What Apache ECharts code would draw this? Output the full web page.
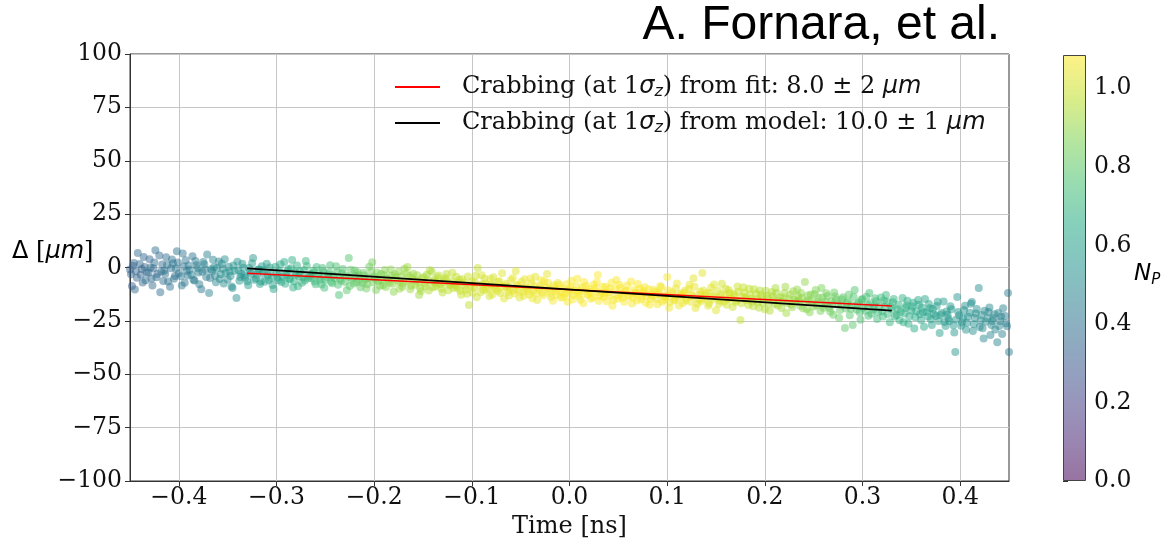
<!DOCTYPE html>
<html><head><meta charset="utf-8">
<script src="https://cdn.jsdelivr.net/npm/echarts@6/dist/echarts.min.js"></script>
<style>html,body{margin:0;padding:0;background:#fff}#c{width:1166px;height:539px}</style>
</head><body><div id="c"></div>
<script>
// samples: [time (ns), Delta (um), N_P]
const samples = [
[-0.464,3.2,0.31],[-0.462,-5.8,0.33],[-0.459,0.7,0.30],[-0.457,-2.6,0.34],[-0.455,5.9,0.32],[-0.453,-4.3,0.35],[-0.450,-0.9,0.33],[-0.448,-8.7,0.31],[-0.446,2.1,0.36],[-0.444,-1.8,0.34],[-0.442,6.8,0.37],[-0.439,-3.4,0.33],[-0.437,-7.0,0.36],[-0.435,0.2,0.35],[-0.433,-2.2,0.38],[-0.430,3.9,0.34],[-0.428,-5.1,0.37],[-0.426,-0.4,0.36],[-0.424,8.1,0.39],[-0.422,-3.0,0.35],[-0.419,-11.6,0.38],[-0.417,1.4,0.37],[-0.415,-1.5,0.40],
[-0.413,4.8,0.38],[-0.411,-6.5,0.40],[-0.408,-0.3,0.39],[-0.406,2.0,0.42],[-0.404,-4.0,0.38],[-0.402,7.6,0.41],[-0.400,-2.7,0.40],[-0.397,-8.4,0.43],[-0.395,0.5,0.39],[-0.393,3.4,0.42],[-0.391,-3.8,0.41],[-0.389,-1.1,0.44],[-0.386,5.3,0.40],[-0.384,-6.1,0.43],[-0.382,1.0,0.42],[-0.380,-2.3,0.45],[-0.377,-10.2,0.41],[-0.375,2.6,0.44],[-0.373,-0.9,0.43],[-0.371,6.1,0.46],[-0.368,-4.9,0.42],[-0.366,-1.7,0.45],
[-0.364,0.1,0.48],[-0.362,-6.9,0.50],[-0.359,2.8,0.47],[-0.357,-3.2,0.51],[-0.355,-0.6,0.49],[-0.353,3.9,0.52],[-0.350,-5.6,0.50],[-0.348,-2.0,0.53],[-0.346,-8.9,0.51],[-0.344,0.9,0.54],[-0.341,-14.3,0.52],[-0.339,-1.3,0.55],[-0.337,-4.4,0.53],[-0.335,1.7,0.56],[-0.333,-3.6,0.54],[-0.330,-6.4,0.57],[-0.328,-0.2,0.55],[-0.326,-2.9,0.58],[-0.324,4.5,0.56],[-0.321,-5.2,0.59],[-0.319,-1.0,0.57],[-0.317,-7.7,0.60],[-0.315,0.6,0.58],
[-0.313,-3.1,0.59],[-0.310,1.8,0.61],[-0.308,-5.9,0.60],[-0.306,-2.4,0.62],[-0.304,-8.2,0.61],[-0.301,0.4,0.63],[-0.299,-4.7,0.62],[-0.297,-1.6,0.64],[-0.295,-6.8,0.63],[-0.292,2.6,0.65],[-0.290,-3.7,0.64],[-0.288,-0.8,0.66],[-0.286,-5.5,0.65],[-0.284,3.5,0.67],[-0.283,-9.4,0.67],[-0.281,-2.2,0.66],[-0.279,0.9,0.68],[-0.277,-4.1,0.67],[-0.274,-7.1,0.69],[-0.272,-1.3,0.68],[-0.270,3.1,0.70],[-0.268,-5.0,0.69],[-0.265,-3.0,0.71],
[-0.263,-2.7,0.71],[-0.261,-6.6,0.72],[-0.259,0.2,0.71],[-0.256,-4.4,0.73],[-0.254,-8.0,0.72],[-0.252,-1.9,0.74],[-0.250,-5.8,0.73],[-0.247,-3.3,0.75],[-0.245,1.1,0.74],[-0.243,-7.4,0.76],[-0.241,-4.9,0.75],[-0.238,-2.1,0.77],[-0.236,-12.9,0.76],[-0.234,-6.2,0.78],[-0.232,-0.7,0.77],[-0.229,-3.9,0.79],[-0.226,4.4,0.78],[-0.225,-8.7,0.80],[-0.223,-5.3,0.79],[-0.220,-1.4,0.81],[-0.218,-6.9,0.80],[-0.216,-3.6,0.82],
[-0.214,-9.3,0.81],[-0.211,-2.6,0.83],[-0.209,-5.7,0.82],[-0.207,-7.8,0.84],[-0.205,0.3,0.83],[-0.202,2.5,0.85],[-0.200,-4.2,0.84],[-0.198,-10.5,0.86],[-0.196,-6.4,0.85],[-0.193,-3.1,0.87],[-0.191,-8.3,0.86],[-0.189,-1.2,0.88],[-0.187,-5.0,0.87],[-0.184,-7.2,0.89],[-0.182,-3.8,0.88],[-0.180,-11.4,0.89],[-0.178,-4.6,0.90],[-0.175,-2.0,0.89],[-0.173,-6.9,0.91],[-0.171,-9.0,0.90],[-0.169,-0.6,0.91],[-0.166,0.2,0.92],
[-0.164,-4.0,0.91],[-0.162,-8.6,0.92],[-0.160,-2.9,0.91],[-0.157,-6.1,0.93],[-0.154,-12.9,0.92],[-0.153,-9.7,0.93],[-0.151,-5.2,0.94],[-0.148,-7.5,0.93],[-0.146,-3.4,0.94],[-0.144,-10.8,0.95],[-0.141,-2.0,0.94],[-0.139,-6.7,0.95],[-0.137,-8.9,0.96],[-0.135,-4.7,0.95],[-0.132,-7.9,0.96],[-0.130,-11.7,0.97],[-0.128,-5.9,0.96],[-0.126,-3.0,0.97],[-0.123,-8.2,0.96],[-0.121,-6.3,0.98],[-0.119,-9.6,0.97],[-0.116,-4.3,0.98],
[-0.114,-7.2,0.97],[-0.112,-10.9,0.98],[-0.110,-5.4,0.99],[-0.107,-8.5,0.98],[-0.105,-12.3,0.99],[-0.103,-17.6,0.98],[-0.100,-6.6,1.00],[-0.098,-9.4,0.99],[-0.096,-3.9,1.00],[-0.094,-0.2,0.99],[-0.091,-11.6,1.01],[-0.089,-7.8,1.00],[-0.087,-5.1,1.01],[-0.085,-10.1,1.00],[-0.082,-13.4,1.01],[-0.080,-8.0,1.02],[-0.078,-4.6,1.01],[-0.076,-9.9,1.02],[-0.073,-6.8,1.01],[-0.071,-12.0,1.02],[-0.069,-2.7,1.03],[-0.066,-8.7,1.02],
[-0.064,-9.2,1.03],[-0.062,-13.1,1.02],[-0.060,-6.0,1.03],[-0.057,-10.6,1.04],[-0.055,-1.6,1.03],[-0.053,-8.1,1.04],[-0.051,-14.0,1.03],[-0.048,-11.3,1.04],[-0.046,-5.5,1.05],[-0.044,-9.7,1.04],[-0.041,-12.6,1.05],[-0.039,-7.4,1.04],[-0.037,-10.9,1.05],[-0.035,-4.3,1.04],[-0.033,-15.2,1.05],[-0.030,-8.8,1.06],[-0.028,-11.8,1.05],[-0.026,-6.5,1.06],[-0.023,-3.0,1.05],[-0.021,-10.2,1.06],[-0.019,-13.7,1.05],[-0.016,-8.3,1.06],
[-0.014,-11.0,1.06],[-0.012,-7.3,1.05],[-0.009,-14.1,1.06],[-0.007,-9.8,1.07],[-0.005,-12.4,1.06],[-0.002,-16.0,1.07],[0.000,-10.4,1.06],[0.002,-6.2,1.07],[0.004,-13.0,1.06],[0.007,-8.9,1.07],[0.009,-11.7,1.07],[0.011,-15.1,1.06],[0.013,-9.5,1.07],[0.015,-6.8,1.08],[0.018,-12.8,1.07],[0.020,-10.1,1.08],[0.022,-14.6,1.07],[0.025,-8.0,1.08],[0.027,-11.2,1.07],[0.029,-3.5,1.08],[0.031,-13.3,1.07],[0.034,-9.1,1.08],
[0.036,-12.1,1.07],[0.038,-15.8,1.08],[0.041,-10.0,1.07],[0.043,-7.2,1.08],[0.045,-15.2,1.07],[0.048,-5.9,1.08],[0.050,-12.9,1.07],[0.052,-9.6,1.08],[0.054,-14.3,1.07],[0.057,-11.4,1.08],[0.059,-8.4,1.07],[0.061,-13.6,1.08],[0.064,-16.9,1.07],[0.066,-10.7,1.08],[0.068,-12.2,1.07],[0.070,-7.7,1.08],[0.073,-14.9,1.07],[0.075,-11.0,1.08],[0.077,-9.2,1.07],[0.079,-13.1,1.08],[0.082,-17.4,1.07],[0.084,-12.6,1.07],
[0.086,-10.4,1.07],[0.089,-14.7,1.06],[0.091,-12.0,1.07],[0.093,-8.7,1.06],[0.095,-16.1,1.07],[0.098,-13.3,1.06],[0.100,-4.4,1.07],[0.102,-18.9,1.06],[0.105,-11.6,1.07],[0.107,-15.4,1.06],[0.109,-9.8,1.05],[0.111,-13.9,1.06],[0.114,-12.3,1.05],[0.116,-16.6,1.06],[0.118,-10.9,1.05],[0.120,-14.2,1.06],[0.123,-8.1,1.05],[0.125,-12.7,1.05],[0.127,-5.0,1.04],[0.129,-19.0,1.05],[0.132,-15.0,1.04],[0.134,-11.3,1.05],
[0.136,-2.6,1.04],[0.138,-14.8,1.03],[0.140,-12.1,1.04],[0.143,-16.9,1.03],[0.145,-9.4,1.03],[0.147,-13.5,1.02],[0.150,-20.0,1.03],[0.152,-11.0,1.02],[0.154,-15.6,1.02],[0.156,-7.6,1.01],[0.159,-13.0,1.02],[0.161,-17.5,1.01],[0.163,-10.5,1.01],[0.165,-14.4,1.00],[0.168,-12.4,1.01],[0.170,-16.2,1.00],[0.172,-8.9,1.00],[0.175,-24.6,0.99],[0.177,-13.8,1.00],[0.179,-11.7,0.99],[0.181,-15.3,0.99],[0.184,-9.9,0.98],
[0.186,-14.6,0.98],[0.188,-18.1,0.97],[0.191,-12.3,0.98],[0.193,-16.4,0.97],[0.195,-10.8,0.96],[0.197,-14.0,0.97],[0.200,-19.5,0.96],[0.202,-13.2,0.96],[0.204,-16.9,0.95],[0.207,-11.5,0.96],[0.209,-15.2,0.95],[0.211,-9.6,0.94],[0.213,-17.8,0.95],[0.216,-13.9,0.94],[0.218,-16.0,0.94],[0.220,-12.0,0.93],[0.222,-21.3,0.93],[0.225,-14.7,0.92],[0.227,-17.3,0.93],[0.229,-11.1,0.92],[0.232,-15.9,0.91],[0.234,-13.5,0.91],
[0.236,-17.9,0.90],[0.238,-14.3,0.91],[0.241,-6.8,0.90],[0.243,-19.6,0.89],[0.245,-15.4,0.89],[0.247,-12.7,0.88],[0.250,-18.3,0.88],[0.252,-10.5,0.87],[0.254,-16.2,0.87],[0.257,-20.4,0.86],[0.259,-14.0,0.86],[0.261,-17.5,0.85],[0.263,-12.1,0.85],[0.266,-19.0,0.84],[0.268,-15.8,0.84],[0.270,-22.1,0.83],[0.272,-13.6,0.83],[0.275,-17.0,0.82],[0.277,-19.9,0.82],[0.279,-14.9,0.81],[0.282,-28.3,0.81],[0.284,-16.6,0.80],
[0.286,-12.6,0.80],[0.288,-19.3,0.79],[0.290,-26.9,0.79],[0.292,-10.5,0.78],[0.295,-17.2,0.78],[0.297,-21.0,0.77],[0.299,-15.1,0.77],[0.301,-18.8,0.76],[0.304,-13.7,0.76],[0.306,-22.6,0.75],[0.308,-16.8,0.75],[0.311,-19.7,0.74],[0.313,-14.4,0.74],[0.315,-24.1,0.73],[0.317,-17.9,0.73],[0.320,-20.6,0.72],[0.322,-15.5,0.72],[0.324,-12.9,0.71],[0.326,-21.8,0.71],[0.329,-18.4,0.70],[0.331,-16.3,0.70],[0.333,-23.0,0.69],
[0.336,-19.5,0.69],[0.338,-24.7,0.68],[0.341,-14.3,0.68],[0.343,-21.6,0.67],[0.345,-17.8,0.67],[0.347,-26.4,0.66],[0.350,-20.1,0.66],[0.352,-16.5,0.65],[0.354,-23.3,0.65],[0.357,-15.2,0.64],[0.359,-21.9,0.64],[0.361,-18.7,0.63],[0.363,-27.8,0.63],[0.366,-20.8,0.62],[0.368,-17.1,0.62],[0.370,-24.2,0.61],[0.372,-19.4,0.61],[0.375,-22.7,0.60],[0.377,-16.0,0.60],[0.379,-30.7,0.59],[0.381,-21.3,0.59],[0.384,-25.5,0.58],
[0.386,-20.6,0.58],[0.388,-23.9,0.57],[0.390,-18.2,0.57],[0.393,-27.0,0.56],[0.395,-39.6,0.56],[0.397,-13.8,0.56],[0.399,-22.4,0.55],[0.402,-25.8,0.55],[0.404,-19.9,0.54],[0.406,-29.2,0.54],[0.408,-23.1,0.53],[0.411,-17.0,0.53],[0.412,-16.2,0.53],[0.414,-26.6,0.52],[0.416,-21.5,0.52],[0.419,-9.6,0.51],[0.421,-24.8,0.51],[0.423,-28.5,0.50],[0.425,-20.3,0.50],[0.428,-23.6,0.50],[0.430,-18.7,0.49],[0.431,-31.6,0.49],[0.433,-25.2,0.48],[0.435,-21.9,0.48],[0.438,-35.0,0.48],[0.440,-27.4,0.47],[0.442,-23.0,0.47],[0.444,-19.1,0.47],[0.447,-26.1,0.46],[0.449,-12.0,0.46],[0.450,-39.6,0.46],[0.452,-24.5,0.45],[0.455,-29.9,0.45],[0.458,-21.4,0.45],[0.461,-26.8,0.44],
[-0.465,-3.8,0.30],[-0.463,1.9,0.32],[-0.460,-7.9,0.31],[-0.458,4.6,0.33],[-0.456,-1.1,0.32],[-0.454,-5.0,0.34],[-0.451,2.9,0.33],[-0.449,-3.2,0.35],[-0.447,0.8,0.34],[-0.445,-10.3,0.36],[-0.443,-4.8,0.35],[-0.440,1.6,0.37],[-0.438,-0.7,0.36],[-0.436,4.9,0.35],[-0.434,-6.0,0.38],[-0.431,-2.5,0.37],[-0.429,0.0,0.39],[-0.427,-8.4,0.36],[-0.425,2.4,0.38],[-0.423,-4.6,0.39],[-0.420,5.6,0.37],[-0.418,-1.9,0.40],[-0.416,-6.3,0.39],
[-0.414,-2.9,0.40],[-0.412,1.2,0.41],[-0.409,-9.0,0.39],[-0.407,3.8,0.42],[-0.405,-5.3,0.41],[-0.403,-0.5,0.43],[-0.401,2.3,0.41],[-0.398,-4.1,0.44],[-0.396,6.6,0.42],[-0.394,-7.2,0.43],[-0.392,-1.6,0.45],[-0.390,0.9,0.43],[-0.387,-3.4,0.46],[-0.385,-5.7,0.44],[-0.383,3.0,0.45],[-0.381,-0.3,0.47],[-0.379,-7.9,0.45],[-0.376,-2.0,0.46],[-0.374,1.5,0.48],[-0.372,-4.5,0.46],[-0.369,-12.0,0.47],[-0.367,-0.8,0.49],[-0.365,3.6,0.48],
[-0.363,-3.9,0.49],[-0.361,-0.4,0.51],[-0.358,-5.4,0.50],[-0.356,1.8,0.52],[-0.354,-7.5,0.51],[-0.352,-2.6,0.53],[-0.349,0.3,0.52],[-0.347,-4.0,0.54],[-0.345,-9.6,0.53],[-0.343,-1.5,0.55],[-0.340,2.7,0.54],[-0.338,-6.2,0.56],[-0.336,-3.0,0.55],[-0.334,-0.1,0.57],[-0.332,-4.8,0.56],[-0.329,-8.3,0.58],[-0.327,-1.9,0.57],[-0.325,2.0,0.59],[-0.323,-5.7,0.58],[-0.320,-3.3,0.60],[-0.318,-0.9,0.59],[-0.316,-6.6,0.61],
[-0.314,-1.2,0.60],[-0.312,-6.7,0.61],[-0.309,-3.6,0.62],[-0.307,0.0,0.61],[-0.305,-4.9,0.63],[-0.303,-10.1,0.62],[-0.300,-2.8,0.64],[-0.298,-6.0,0.63],[-0.296,1.5,0.65],[-0.294,-4.3,0.64],[-0.291,-7.6,0.66],[-0.289,-2.0,0.65],[-0.287,-5.2,0.67],[-0.285,-0.4,0.66],[-0.282,-6.4,0.68],[-0.280,-3.4,0.67],[-0.278,-8.8,0.69],[-0.276,-1.8,0.68],[-0.273,-4.6,0.70],[-0.271,-6.1,0.69],[-0.269,0.7,0.71],[-0.266,-3.9,0.70],
[-0.264,-5.0,0.71],[-0.262,-1.5,0.72],[-0.260,-7.9,0.72],[-0.257,-3.1,0.73],[-0.255,-5.6,0.73],[-0.253,-0.2,0.74],[-0.251,-9.5,0.74],[-0.248,-4.6,0.75],[-0.246,-2.4,0.75],[-0.244,-6.7,0.76],[-0.242,-3.7,0.76],[-0.239,0.6,0.77],[-0.237,-8.1,0.77],[-0.235,-5.1,0.78],[-0.233,-2.7,0.78],[-0.230,-6.8,0.79],[-0.228,-10.6,0.79],[-0.226,-4.3,0.80],[-0.224,-1.0,0.80],[-0.221,-7.5,0.81],[-0.219,-4.0,0.81],[-0.217,-2.2,0.82],
[-0.215,-5.9,0.82],[-0.212,-7.1,0.83],[-0.210,-3.8,0.83],[-0.208,-9.8,0.84],[-0.206,-4.9,0.84],[-0.203,-1.9,0.85],[-0.201,-7.0,0.85],[-0.199,-5.3,0.86],[-0.197,-2.4,0.86],[-0.194,-8.6,0.87],[-0.192,-6.0,0.87],[-0.190,-3.5,0.88],[-0.188,-9.1,0.88],[-0.185,-5.8,0.89],[-0.183,-0.9,0.89],[-0.181,-7.6,0.90],[-0.179,-3.2,0.90],[-0.176,-6.2,0.90],[-0.174,-10.0,0.91],[-0.172,-4.1,0.91],[-0.170,-7.4,0.92],[-0.167,-2.8,0.92],
[-0.165,-6.6,0.92],[-0.163,-10.2,0.92],[-0.161,-5.0,0.93],[-0.158,-8.1,0.93],[-0.156,-3.6,0.93],[-0.154,-7.0,0.94],[-0.152,-11.0,0.94],[-0.149,-4.4,0.94],[-0.147,-8.8,0.95],[-0.145,-6.0,0.95],[-0.143,-1.3,0.95],[-0.140,-9.3,0.96],[-0.138,-5.6,0.96],[-0.136,-7.4,0.96],[-0.134,-3.8,0.97],[-0.131,-9.9,0.97],[-0.129,-6.9,0.97],[-0.127,-4.9,0.98],[-0.124,-10.6,0.98],[-0.122,-7.7,0.98],[-0.120,-2.5,0.99],[-0.117,-8.4,0.99],
[-0.115,-9.5,0.99],[-0.113,-5.8,0.99],[-0.111,-12.8,1.00],[-0.108,-7.0,1.00],[-0.106,-10.4,1.00],[-0.104,-4.2,1.00],[-0.101,-8.9,1.01],[-0.099,-11.8,1.01],[-0.097,-6.9,1.01],[-0.095,-13.9,1.01],[-0.092,-8.4,1.02],[-0.090,-3.6,1.02],[-0.088,-10.6,1.02],[-0.086,-7.5,1.02],[-0.083,-9.7,1.03],[-0.081,-5.4,1.03],[-0.079,-12.6,1.03],[-0.077,-8.8,1.03],[-0.074,-10.9,1.03],[-0.072,-6.4,1.04],[-0.070,-9.0,1.04],[-0.067,-14.5,1.04],
[-0.065,-7.6,1.04],[-0.063,-11.5,1.04],[-0.061,-9.8,1.04],[-0.058,-4.9,1.05],[-0.056,-12.2,1.05],[-0.054,-8.6,1.05],[-0.052,-10.5,1.05],[-0.049,-6.7,1.05],[-0.047,-13.2,1.05],[-0.045,-9.0,1.06],[-0.042,-11.0,1.06],[-0.040,-5.2,1.06],[-0.038,-14.4,1.06],[-0.036,-8.5,1.06],[-0.034,-12.0,1.06],[-0.031,-10.0,1.06],[-0.029,-6.0,1.07],[-0.027,-13.0,1.07],[-0.024,-9.4,1.07],[-0.022,-7.2,1.07],[-0.020,-11.9,1.07],[-0.017,-15.6,1.07],
[-0.015,-9.6,1.07],[-0.013,-12.9,1.07],[-0.010,-8.2,1.07],[-0.008,-11.4,1.08],[-0.006,-13.9,1.08],[-0.003,-7.9,1.08],[-0.001,-12.0,1.08],[0.001,-9.1,1.08],[0.003,-15.0,1.08],[0.006,-11.0,1.08],[0.008,-5.3,1.08],[0.010,-13.2,1.08],[0.012,-10.9,1.08],[0.014,-16.7,1.08],[0.017,-8.6,1.08],[0.019,-12.5,1.08],[0.021,-11.5,1.08],[0.024,-14.1,1.08],[0.026,-9.7,1.08],[0.028,-6.9,1.08],[0.030,-15.7,1.08],[0.033,-11.9,1.08],
[0.035,-13.8,1.08],[0.037,-9.0,1.08],[0.040,-11.7,1.08],[0.042,-13.0,1.08],[0.044,-17.9,1.08],[0.047,-10.3,1.08],[0.049,-14.6,1.08],[0.051,-8.1,1.08],[0.053,-12.4,1.08],[0.056,-16.0,1.08],[0.058,-10.9,1.08],[0.060,-12.9,1.08],[0.063,-6.6,1.08],[0.065,-14.0,1.08],[0.067,-11.8,1.08],[0.069,-15.4,1.08],[0.072,-9.9,1.08],[0.074,-13.3,1.08],[0.076,-12.0,1.08],[0.078,-16.4,1.08],[0.081,-10.2,1.08],[0.083,-14.5,1.07],
[0.085,-13.6,1.07],[0.088,-11.3,1.07],[0.090,-17.2,1.07],[0.092,-12.6,1.07],[0.094,-9.4,1.07],[0.097,-15.1,1.07],[0.099,-13.9,1.07],[0.101,-10.7,1.07],[0.103,-16.3,1.06],[0.106,-12.9,1.06],[0.108,-14.9,1.06],[0.110,-7.5,1.06],[0.112,-17.8,1.06],[0.115,-13.0,1.06],[0.117,-11.8,1.06],[0.119,-15.5,1.05],[0.122,-10.1,1.05],[0.124,-16.0,1.05],[0.126,-13.5,1.05],[0.128,-9.0,1.05],[0.131,-17.0,1.04],[0.133,-12.8,1.04],
[0.135,-15.7,1.04],[0.137,-10.8,1.04],[0.139,-13.4,1.04],[0.142,-17.9,1.03],[0.144,-11.9,1.03],[0.146,-15.0,1.03],[0.148,-8.0,1.03],[0.151,-14.1,1.02],[0.153,-17.0,1.02],[0.155,-12.6,1.02],[0.158,-16.1,1.02],[0.160,-10.0,1.01],[0.162,-14.9,1.01],[0.164,-12.0,1.01],[0.167,-18.5,1.00],[0.169,-13.2,1.00],[0.171,-15.6,1.00],[0.173,-11.3,0.99],[0.176,-16.8,0.99],[0.178,-9.3,0.99],[0.180,-14.1,0.98],[0.183,-17.6,0.98],
[0.185,-12.9,0.98],[0.187,-16.0,0.97],[0.189,-10.2,0.97],[0.192,-14.8,0.97],[0.194,-18.9,0.96],[0.196,-12.8,0.96],[0.198,-16.5,0.96],[0.201,-10.9,0.95],[0.203,-14.6,0.95],[0.205,-20.3,0.95],[0.208,-13.3,0.94],[0.210,-17.1,0.94],[0.212,-11.9,0.94],[0.214,-15.6,0.93],[0.217,-19.0,0.93],[0.219,-14.2,0.93],[0.221,-9.0,0.92],[0.223,-16.6,0.92],[0.226,-12.6,0.92],[0.228,-18.6,0.91],[0.230,-15.0,0.91],[0.233,-10.3,0.90],
[0.235,-15.5,0.90],[0.237,-12.0,0.90],[0.239,-19.1,0.89],[0.242,-16.2,0.89],[0.244,-13.1,0.88],[0.246,-21.0,0.88],[0.248,-15.9,0.88],[0.251,-12.5,0.87],[0.253,-17.8,0.87],[0.255,-14.2,0.86],[0.258,-9.6,0.86],[0.260,-18.9,0.85],[0.262,-16.0,0.85],[0.264,-13.4,0.84],[0.267,-20.7,0.84],[0.269,-17.3,0.83],[0.271,-11.7,0.83],[0.273,-15.1,0.82],[0.276,-23.6,0.82],[0.278,-17.7,0.81],[0.280,-13.9,0.81],[0.283,-19.2,0.80],
[0.285,-15.9,0.80],[0.287,-22.4,0.79],[0.289,-17.6,0.79],[0.291,-13.8,0.78],[0.294,-19.8,0.78],[0.296,-16.4,0.77],[0.298,-24.5,0.77],[0.300,-14.8,0.76],[0.303,-20.2,0.76],[0.305,-17.4,0.75],[0.307,-11.9,0.75],[0.309,-21.7,0.74],[0.312,-18.0,0.74],[0.314,-15.8,0.73],[0.316,-20.9,0.73],[0.319,-14.1,0.72],[0.321,-22.9,0.72],[0.323,-18.5,0.71],[0.325,-16.0,0.71],[0.328,-25.6,0.70],[0.330,-19.6,0.70],[0.332,-14.7,0.69],
[0.335,-22.2,0.69],[0.337,-17.5,0.68],[0.339,-20.9,0.68],[0.342,-25.7,0.67],[0.344,-19.0,0.67],[0.346,-15.6,0.66],[0.348,-22.8,0.66],[0.351,-18.3,0.65],[0.353,-28.6,0.65],[0.355,-20.5,0.64],[0.358,-17.4,0.64],[0.360,-24.6,0.63],[0.362,-21.0,0.63],[0.364,-14.8,0.62],[0.367,-23.0,0.62],[0.369,-19.1,0.61],[0.371,-26.9,0.61],[0.373,-21.8,0.60],[0.376,-18.0,0.60],[0.378,-25.1,0.59],[0.380,-22.3,0.59],[0.383,-15.9,0.58],
[0.385,-27.4,0.58],[0.387,-22.0,0.57],[0.389,-25.1,0.57],[0.391,-19.6,0.57],[0.394,-30.4,0.56],[0.396,-24.4,0.56],[0.398,-20.8,0.55],[0.401,-27.3,0.55],[0.403,-23.5,0.54],[0.405,-17.9,0.54],[0.407,-25.9,0.54],[0.410,-21.2,0.53],[0.413,-29.7,0.53],[0.415,-23.7,0.52],[0.417,-19.4,0.52],[0.420,-27.9,0.51],[0.422,-22.2,0.51],[0.424,-33.3,0.50],[0.426,-25.4,0.50],[0.429,-20.9,0.49],[0.432,-26.9,0.49],[0.434,-23.8,0.48],[0.436,-29.0,0.48],[0.439,-21.3,0.48],[0.441,-25.0,0.47],[0.443,-31.2,0.47],[0.446,-22.7,0.46],[0.448,-27.5,0.46],[0.451,-19.7,0.46],[0.453,-28.3,0.45],[0.456,-23.2,0.45],[0.459,-33.8,0.45],[0.462,-24.9,0.44]
];
const fitLine = [[-0.33, -2.7], [0.33, -18.0]];
const modelLine = [[-0.33, -0.4], [0.33, -20.2]];
const xTicks = [-0.4, -0.3, -0.2, -0.1, 0.0, 0.1, 0.2, 0.3, 0.4];
const cbarTicks = [0.0, 0.2, 0.4, 0.6, 0.8, 1.0];
const legendNames = {
  fit: '{t|Crabbing (at 1}{i|σ}{s|z}{t|) from fit: 8.0 ± 2 }{i|μm}',
  model: '{t|Crabbing (at 1}{i|σ}{s|z}{t|) from model: 10.0 ± 1 }{i|μm}'
};
const viridis = ['#440154','#482475','#414487','#355f8d','#2a788e','#21918c','#22a884','#44bf70','#7ad151','#bddf26','#fde725'];

// pale (alpha-blended on white) version for the colour bar
const blend = (hex, a) => {
  const n = parseInt(hex.slice(1), 16);
  const c = [(n >> 16) & 255, (n >> 8) & 255, n & 255].map(v => Math.round(v * a + 255 * (1 - a)));
  return 'rgb(' + c.join(',') + ')';
};
const viridisPale = viridis.map(c => blend(c, 0.55));

const SERIF = 'DejaVu Serif';
const SANS = 'DejaVu Sans';
const TICK_FS = 23.5;
const fmtX = v => (v < -1e-9 ? '\u2212' : '') + Math.abs(v).toFixed(1);
const fmtY = v => (v < 0 ? '\u2212' + Math.abs(v) : String(v));
const richText = {
  t: { fontFamily: SERIF, fontSize: 24, color: '#111', lineHeight: 26 },
  i: { fontFamily: SANS, fontStyle: 'italic', fontSize: 24, color: '#111', lineHeight: 26 },
  s: { fontFamily: SANS, fontStyle: 'italic', fontSize: 16, color: '#111', lineHeight: 16, verticalAlign: 'bottom' }
};

const chart = echarts.init(document.getElementById('c'), null, { renderer: 'canvas' });
chart.setOption({
  animation: false,
  backgroundColor: '#ffffff',
  grid: [
    { left: 130, top: 54, width: 879, height: 427, outerBoundsMode: 'none', containLabel: false,
      show: true, borderColor: '#333', borderWidth: 1, backgroundColor: 'transparent' },
    { left: 1063, top: 55, width: 23, height: 426, outerBoundsMode: 'none', containLabel: false, show: false }
  ],
  xAxis: [
    { type: 'value', gridIndex: 0, min: -0.45, max: 0.45, splitNumber: 9,
      axisLine: { show: true, onZero: false, lineStyle: { color: '#333', width: 1 } },
      axisTick: { show: true, customValues: xTicks, length: 5, lineStyle: { color: '#333' } },
      axisLabel: { customValues: xTicks, formatter: fmtX, fontFamily: SERIF, fontSize: TICK_FS, color: '#111', margin: 5 },
      splitLine: { show: true, lineStyle: { color: '#c6c6c6', width: 1 } },
      name: 'Time [ns]', nameLocation: 'middle', nameGap: 32,
      nameTextStyle: { fontFamily: SERIF, fontSize: 24, color: '#111' } },
    { type: 'value', gridIndex: 1, show: false, min: 0, max: 1 }
  ],
  yAxis: [
    { type: 'value', gridIndex: 0, min: -100, max: 100, interval: 25,
      axisLine: { show: true, onZero: false, lineStyle: { color: '#333', width: 1 } },
      axisTick: { show: true, length: 5, lineStyle: { color: '#333' } },
      axisLabel: { formatter: fmtY, fontFamily: SERIF, fontSize: TICK_FS, color: '#111', margin: 8 },
      splitLine: { show: true, lineStyle: { color: '#c6c6c6', width: 1 } } },
    { type: 'value', gridIndex: 1, position: 'right', min: 0, max: 1.085,
      axisLine: { show: false },
      axisTick: { show: true, customValues: cbarTicks, length: 5, lineStyle: { color: '#333' } },
      axisLabel: { customValues: cbarTicks, formatter: v => v.toFixed(1), fontFamily: SERIF, fontSize: TICK_FS, color: '#111', margin: 8 },
      splitLine: { show: false } }
  ],
  visualMap: {
    type: 'continuous', seriesIndex: 0, dimension: 2, min: 0, max: 1.085,
    left: 1063, top: 55, itemWidth: 23, itemHeight: 426, padding: 0,
    calculable: false, hoverLink: false, realtime: false, text: null, showLabel: false,
    inRange: { color: viridis, colorAlpha: 0.6 },
    controller: { inRange: { color: viridisPale, colorAlpha: 1 } }
  },
  legend: {
    orient: 'vertical', left: 390, top: 70, itemWidth: 45, itemHeight: 2, itemGap: 11,
    icon: 'rect',
    data: ['fit', 'model'],
    formatter: name => legendNames[name],
    textStyle: { rich: richText, padding: [0, 0, 0, 17] },
    selectedMode: false
  },
  series: [
    { name: 'points', type: 'scatter', xAxisIndex: 0, yAxisIndex: 0, data: samples,
      symbolSize: 8, itemStyle: { borderWidth: 0 }, z: 2 },
    { name: 'fit', type: 'line', xAxisIndex: 0, yAxisIndex: 0, data: fitLine,
      symbol: 'none', lineStyle: { color: '#ff0000', width: 1.6 }, itemStyle: { color: '#ff0000' }, z: 3 },
    { name: 'model', type: 'line', xAxisIndex: 0, yAxisIndex: 0, data: modelLine,
      symbol: 'none', lineStyle: { color: '#000', width: 1.8 }, itemStyle: { color: '#000' }, z: 4 }
  ],
  graphic: [
    { type: 'text', right: 166, top: 2, z: 10,
      style: { text: 'A. Fornara, et al.', font: '48px "Liberation Sans", Arial, sans-serif', fill: '#000' } },
    { type: 'text', left: 12, top: 240, z: 10,
      style: { text: '{a|Δ }{b|[}{i|μm}{b|]}', rich: {
        a: { fontFamily: SANS, fontSize: 24, color: '#111' },
        b: { fontFamily: SERIF, fontSize: 24, color: '#111' },
        i: { fontFamily: SANS, fontStyle: 'italic', fontSize: 24, color: '#111' } } } },
    { type: 'text', left: 1134, top: 263, z: 10,
      style: { text: '{n|N}{p|P}', rich: {
        n: { fontFamily: SANS, fontStyle: 'italic', fontSize: 23, color: '#111', lineHeight: 27 },
        p: { fontFamily: SANS, fontStyle: 'italic', fontSize: 15, color: '#111', lineHeight: 15, verticalAlign: 'bottom' } } } },
    { type: 'rect', z: 100, silent: true, shape: { x: 1063.5, y: 55.5, width: 22, height: 425 },
      style: { fill: 'none', stroke: '#444', lineWidth: 1 } }
  ]
});
</script></body></html>
